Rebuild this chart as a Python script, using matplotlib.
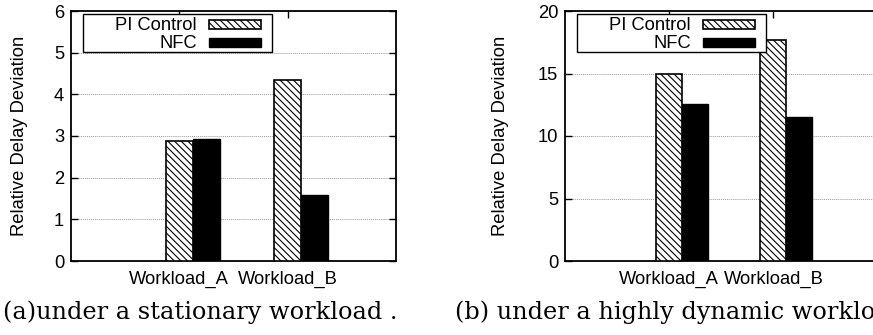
import matplotlib
matplotlib.use("Agg")
import matplotlib.pyplot as plt
from matplotlib.patches import Rectangle
import numpy as np

# ---- data -------------------------------------------------------------
categories = ["Workload_A", "Workload_B"]
series_names = ["PI Control", "NFC"]

stationary_pi = [2.88, 4.34]
stationary_nfc = [2.93, 1.59]

dynamic_pi = [15.0, 17.68]
dynamic_nfc = [12.6, 11.55]

stationary_ticks = [0, 1, 2, 3, 4, 5, 6]
dynamic_ticks = [0, 5, 10, 15, 20]

captions = ["(a)under a stationary workload .", "(b) under a highly dynamic workload ."]

# ---- styling ------------------------------------------------------------
plt.rcParams["font.family"] = ["Liberation Sans", "DejaVu Sans"]
plt.rcParams["hatch.linewidth"] = 0.8
plt.rcParams["hatch.color"] = "black"

W, H = 873, 335
fig = plt.figure(figsize=(W / 100, H / 100), dpi=100)

FS = 13.2
BAR_W = 0.25
series_styles = [
    dict(facecolor="white", edgecolor="black", hatch="\\\\\\\\\\", linewidth=1.2),
    dict(facecolor="black", edgecolor="black", linewidth=1.0),
]


def px_axes(left, top, width, height):
    return fig.add_axes([left / W, 1 - (top + height) / H, width / W, height / H])


def draw_key(left, top):
    """gnuplot-style key: labels right-aligned, sample boxes to their right."""
    def fx(px):
        return (left + px) / W

    def fy(py):
        return 1 - (top + py) / H

    fig.add_artist(Rectangle((fx(11.5), fy(41)), (201 - 11.5) / W, 38 / H,
                             transform=fig.transFigure, facecolor="white",
                             edgecolor="black", linewidth=1.0, zorder=5))
    row_centers = [13, 31]
    for name, style, cy in zip(series_names, series_styles, row_centers):
        fig.text(fx(126), fy(cy), name, ha="right", va="center_baseline",
                 fontsize=FS, zorder=6)
        fig.add_artist(Rectangle((fx(138), fy(cy + 4.5)), 52 / W, 9 / H,
                                 transform=fig.transFigure, zorder=6, **style))


def panel(ax, pi_vals, nfc_vals, yticks, label_x, xmax):
    x = np.arange(len(categories))
    ax.bar(x, pi_vals, BAR_W, **series_styles[0], zorder=3)
    ax.bar(x + BAR_W, nfc_vals, BAR_W, **series_styles[1], zorder=3)

    ax.set_xlim(-1, xmax)
    ax.set_ylim(yticks[0], yticks[-1])
    ax.set_xticks(x)
    ax.set_xticklabels(categories, fontsize=FS)
    ax.set_yticks(yticks)
    ax.set_yticklabels([str(t) for t in yticks], fontsize=FS)
    ax.tick_params(axis="both", direction="in", length=5, width=1.0,
                   top=True, right=True)
    ax.tick_params(axis="x", pad=7)
    ax.tick_params(axis="y", pad=5)

    ax.set_axisbelow(True)
    ax.yaxis.grid(True, color="#9a9a9a", linestyle=(0, (1, 1)), linewidth=0.7)
    for sp in ax.spines.values():
        sp.set_linewidth(1.3)

    ax.set_ylabel("Relative Delay Deviation", fontsize=FS)
    ax.yaxis.set_label_coords(label_x, 0.5)


ax1 = px_axes(71, 11, 325, 250)
panel(ax1, stationary_pi, stationary_nfc, stationary_ticks, -0.131, 2.0)
draw_key(71, 11)

# the second panel runs on past the right edge of the canvas
ax2 = px_axes(565, 11, 318, 250)
panel(ax2, dynamic_pi, dynamic_nfc, dynamic_ticks, -0.176, -1 + 318 / 104.2)
draw_key(565, 11)

fig.text(3 / W, 1 - 319 / H, captions[0], family="DejaVu Serif",
         fontsize=17.3, ha="left", va="baseline")
fig.text(455 / W, 1 - 319 / H, captions[1], family="DejaVu Serif",
         fontsize=17.3, ha="left", va="baseline")

fig.savefig("out.png", dpi=100)
